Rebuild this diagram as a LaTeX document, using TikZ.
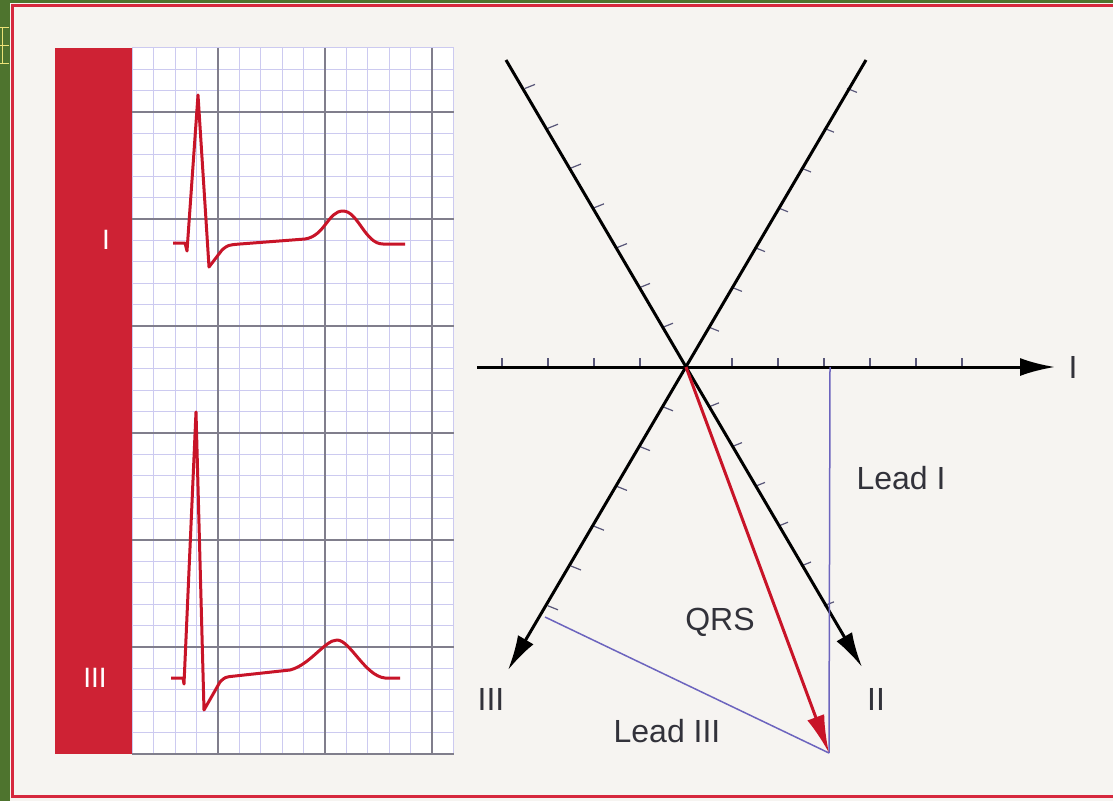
\documentclass[tikz,border=0pt]{standalone}
\usepackage{fontspec}
\setmainfont{Liberation Sans}
\usetikzlibrary{arrows.meta}

\definecolor{bggreen}{RGB}{78,116,46}
\definecolor{paper}{RGB}{246,244,241}
\definecolor{framered}{RGB}{214,40,62}
\definecolor{barred}{RGB}{206,34,52}
\definecolor{tracered}{RGB}{200,20,40}
\definecolor{minorgrid}{RGB}{204,202,240}
\definecolor{majorgrid}{RGB}{128,126,140}
\definecolor{projblue}{RGB}{108,100,190}
\definecolor{inkgray}{RGB}{50,50,58}
\definecolor{tickgray}{RGB}{88,86,120}
\definecolor{markyellow}{RGB}{236,226,120}

\begin{document}
\begin{tikzpicture}[x=1pt, y=-1pt,
    leadtext/.style = {text=inkgray, font=\fontsize{32}{36}\selectfont, inner sep=0pt},
    bartext/.style = {text=white, font=\fontsize{28}{32}\selectfont, inner sep=0pt},
    leadaxis/.style = {line width=3pt, black, -{Latex[length=35pt,width=18pt]}},
    qrsarrow/.style = {line width=3pt, tracered, -{Latex[length=38pt,width=18pt]}},
    projline/.style = {line width=1.5pt, projblue},
    ecgtrace/.style = {line width=3pt, tracered, line join=round},
    tickmark/.style = {line width=1.2pt, tickgray},
    minorline/.style = {line width=1pt, minorgrid},
    majorline/.style = {line width=1.6pt, majorgrid}]

        % Background and frame
        \useasboundingbox (0,0) rectangle (1113,801);
        \fill[bggreen] (0,0) rectangle (1113,801);
        \fill[paper] (10,3) rectangle (1113,801);
        \draw[framered, line width=3pt] (1113,5) -- (12,5) -- (12,796) -- (1113,796);
        \draw[markyellow, line width=1pt] (0,27) -- (9,27) (0,45) -- (9,45) (0,63) -- (9,63) (2,27) -- (2,63);

        % ECG paper
        \fill[white] (132.4,47.8) rectangle (453.6,754);
        \foreach \i in {0,...,15}
            \draw[minorline] ({132.4+21.4*\i},47.8) -- ({132.4+21.4*\i},754);
        \foreach \j in {0,...,33}
            \draw[minorline] (132.4,{754-21.4*\j}) -- (453.6,{754-21.4*\j});
        \foreach \i in {4,9,14}
            \draw[majorline] ({132.4+21.4*\i},47.8) -- ({132.4+21.4*\i},754);
        \foreach \j in {0,5,...,30}
            \draw[majorline] (132.4,{754-21.4*\j}) -- (453.6,{754-21.4*\j});
        \fill[barred] (55,47.8) rectangle (132.4,754);

        % Traces
        \draw[ecgtrace] (173,243) -- (185,243) -- (187,251) -- (198,95) -- (209,267) -- (222,250)
            .. controls (228,245) .. (240,244) -- (305,239)
            .. controls (325,236) and (328,211) .. (343,211)
            .. controls (358,211) and (365,244) .. (383,244) -- (405,244);
        \draw[ecgtrace] (171,678) -- (183,678) -- (184,684) -- (196,412) -- (204,710) -- (220,682)
            .. controls (225,677) .. (235,676) -- (290,670)
            .. controls (310,665) and (325,640) .. (337,640)
            .. controls (350,640) and (365,676) .. (385,678) -- (400,678);
        \node[bartext] (barI)   at (106,240) {I};
        \node[bartext] (barIII) at (95,678)  {III};

        % Axes
        \coordinate (O)        at (686,367);
        \coordinate (Istart)   at (477,367);
        \coordinate (Itip)     at (1055,367);
        \coordinate (IIstart)  at (506,60);
        \coordinate (IItip)    at (862,667);
        \coordinate (IIIstart) at (866,60);
        \coordinate (IIItip)   at (508,670);
        \coordinate (QRStip)   at (829,753);
        \coordinate (footI)    at (830,367);
        \coordinate (footIII)  at (545,617);

        \foreach \k in {1,...,6}
            \draw[tickmark] ({686+46*\k},367) -- ++(0,-9);
        \foreach \k in {1,...,4}
            \draw[tickmark] ({686-46*\k},367) -- ++(0,-9);
        \foreach \k in {1,...,7} {
            \draw[tickmark] ({686-23*\k},{367-39.8*\k}) -- ++(10,-4);
            \draw[tickmark] ({686+23*\k},{367-39.8*\k}) -- ++(10,4);
        }
        \foreach \k in {1,...,6} {
            \draw[tickmark] ({686+23*\k},{367+39.8*\k}) -- ++(10,-4);
            \draw[tickmark] ({686-23*\k},{367+39.8*\k}) -- ++(10,4);
        }

        \draw[leadaxis] (Istart) -- (Itip);
        \draw[leadaxis] (IIstart) -- (IItip);
        \draw[leadaxis] (IIIstart) -- (IIItip);

        % Projections
        \draw[projline] (footI) -- (QRStip);
        \draw[projline] (footIII) -- (QRStip);
        \draw[qrsarrow] (O) -- (QRStip);

        % Labels
        \node[leadtext] (nameI)     at (1073,367) {I};
        \node[leadtext] (nameII)    at (876,699)  {II};
        \node[leadtext] (nameIII)   at (491,699)  {III};
        \node[leadtext] (nameQRS)   at (720,622)  {QRS};
        \node[leadtext] (leadI)     at (901,478)  {Lead I};
        \node[leadtext] (leadIII)   at (667,731)  {Lead III};
      \end{tikzpicture}
\end{document}
